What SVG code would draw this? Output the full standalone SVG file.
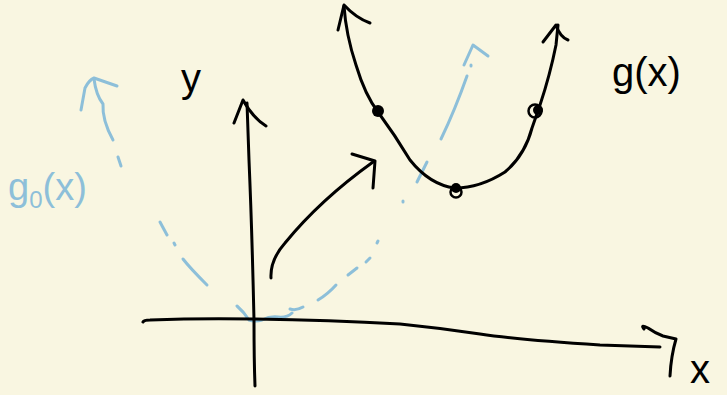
<svg xmlns="http://www.w3.org/2000/svg" width="727" height="395" viewBox="0 0 727 395">
<style>
.k{fill:none;stroke:#000;stroke-width:3;stroke-linecap:round;stroke-linejoin:round}
.b{fill:none;stroke:#8dbfd9;stroke-width:3;stroke-linecap:round;stroke-linejoin:round}
.tk{font-family:"Liberation Sans",Arial,sans-serif;fill:#000}
.tb{font-family:"Liberation Sans",Arial,sans-serif;fill:#8dbfd9}
</style>
<rect width="727" height="395" fill="#f9f6e1"/>
<g id="blue-parabola">
<path class="b" d="M81,110 L85,88 Q89,80 94,78 L117,86"/>
<path class="b" d="M94,79 Q96,95 103,104 Q102,120 113,140"/>
<path class="b" d="M118,157 L121,166"/>
<path class="b" d="M160,222 L167,235"/>
<path class="b" d="M174,243 L175,245"/>
<path class="b" d="M183,259 Q190,268 207,285"/>
<path class="b" d="M237,306 Q244,312 249,320 Q255,322 262,320 Q270,316 278,317 Q287,318 292,313"/>
<path class="b" d="M290,309 Q296,311 303,307"/>
<path class="b" d="M318,300 Q328,294 336,285"/>
<path class="b" d="M348,275 L357,268"/>
<path class="b" d="M366,262 L370,258"/>
<path class="b" d="M377,243 L378,241"/>
<path class="b" d="M403,202 L403,201"/>
<path class="b" d="M417,182 L427,162"/>
<path class="b" d="M441,139 Q455,110 467,76"/>
<path class="b" d="M471,66 L471,65"/>
<path class="b" d="M464,65 L473,45 L488,56"/>
</g>
<g id="axes">
<path class="k" d="M143,322 Q144,320 150,320 Q200,318 255,319 Q330,320 400,324 Q440,328 480,334 Q520,340 600,345 L660,347"/>
<path class="k" d="M644,329 Q640,324 648,328 Q655,333 663,336 L676,339 Q671,356 670,376"/>
<path class="k" d="M255,386 Q254,360 254,320 Q252,230 249,160 L247,103"/>
<path class="k" d="M234,123 L243,100 Q253,118 266,126"/>
</g>
<g id="label-y"><text class="tk" x="181" y="92" font-size="40">y</text></g>
<g id="label-x"><text class="tk" x="690" y="383" font-size="40">x</text></g>
<g id="connectors">
<path class="k" d="M271,278 Q270,260 285,243 Q320,200 373,162"/>
<path class="k" d="M352,154 L375,161 L373,188"/>
</g>
<g id="g-parabola">
<path class="k" d="M344,6 Q346,35 356,65 Q365,95 378,112 Q395,135 410,160 Q430,185 455,188 Q480,188 505,172 Q525,155 532,128 L540,105 Q550,75 556,45 L558,25"/>
<path class="k" d="M338,30 L344,5 Q356,18 370,23"/>
<path class="k" d="M543,42 L556,25 Q560,37 568,40"/>
<circle cx="378" cy="111" r="6" fill="#000"/>
<circle cx="456" cy="188" r="5" fill="#000"/>
<circle cx="456" cy="192" r="5.5" fill="none" stroke="#000" stroke-width="2.5"/>
<circle cx="538" cy="110" r="5" fill="#000"/>
<circle cx="535" cy="111" r="6.5" fill="none" stroke="#000" stroke-width="2.5"/>
</g>
<g id="label-g"><text class="tk" x="612" y="86" font-size="40">g(x)</text></g>
<g id="label-g0"><text class="tb" x="8" y="200" font-size="38">g<tspan font-size="24" dy="8">0</tspan><tspan dy="-8">(x)</tspan></text></g>
</svg>
